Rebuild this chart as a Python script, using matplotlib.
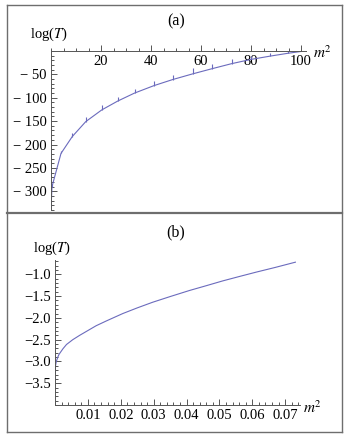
import matplotlib
matplotlib.use("Agg")
import matplotlib.pyplot as plt
from matplotlib.lines import Line2D
from matplotlib.ticker import MultipleLocator, FixedLocator

plt.rcParams['font.family'] = ['Liberation Serif', 'DejaVu Serif']
plt.rcParams['mathtext.fontset'] = 'stix'
plt.rcParams['axes.unicode_minus'] = True

# panel (a): log(T) against m^2, curve through the cusps
a_x = [0.05, 0.4, 4.0, 8.5, 13.9, 20.3, 26.7, 33.4, 41.2, 48.7, 56.6, 64.3, 72.3, 80.0, 87.6, 94.6, 100.0]
a_y = [-332, -290, -219, -183, -151, -126, -107, -90, -74, -61, -49, -38, -27, -18, -11, -5, -1]
# narrow peaks at the cusps (base value, top value)
spike_x = [0.4, 4.0, 8.5, 13.9, 20.3, 26.7, 33.4, 41.2, 48.7, 56.6, 64.3, 72.3, 80.0, 87.6, 94.6]
spike_lo = [-290, -219, -183, -151, -126, -107, -90, -74, -61, -49, -38, -27, -18, -11, -5]
spike_hi = [-284, -213, -175, -141, -116, -99, -82, -65, -52, -37, -27, -17, -10, -4, 0]

# panel (b): small m^2 range
b_x = [0.00003, 0.0001, 0.0004, 0.00086, 0.0012, 0.0024, 0.0035, 0.0054, 0.0075, 0.010, 0.0125,
       0.0156, 0.0206, 0.025, 0.0297, 0.035, 0.0409, 0.046, 0.051, 0.056, 0.0611, 0.067, 0.0731]
b_y = [-3.28, -3.12, -3.00, -2.90, -2.84, -2.71, -2.61, -2.50, -2.40, -2.29, -2.18,
       -2.07, -1.90, -1.77, -1.64, -1.51, -1.37, -1.26, -1.15, -1.05, -0.95, -0.84, -0.72]

line_col = '#6b6bbd'
axis_col = '#555555'
W, H = 350, 436

fig = plt.figure(figsize=(W / 100, H / 100), dpi=100)


def px_axes(l, t, r, b):
    return fig.add_axes([l / W, 1 - b / H, (r - l) / W, (b - t) / H])


def style(ax):
    for s in ['top', 'right']:
        ax.spines[s].set_visible(False)
    for s in ['left', 'bottom']:
        ax.spines[s].set_color(axis_col)
        ax.spines[s].set_linewidth(0.7)
    ax.tick_params(which='both', direction='in', color=axis_col, width=0.7, labelsize=10.5, pad=3)
    ax.tick_params(which='major', length=4)
    ax.tick_params(which='minor', length=2.5)
    ax.patch.set_visible(False)


# ---- panel (a)
ax1 = px_axes(51, 51, 306, 210)
style(ax1)
ax1.plot(a_x, a_y, color=line_col, lw=0.8)
ax1.vlines(spike_x, spike_lo, spike_hi, color=line_col, lw=0.8)
ax1.set_xlim(0, 102)
ax1.set_ylim(-340, 0)
ax1.spines['bottom'].set_position(('data', 0))
ax1.spines['left'].set_position(('data', 0))
ax1.xaxis.set_major_locator(FixedLocator([20, 40, 60, 80, 100]))
ax1.xaxis.set_minor_locator(MultipleLocator(5))
ax1.yaxis.set_major_locator(FixedLocator([-50, -100, -150, -200, -250, -300]))
ax1.yaxis.set_minor_locator(MultipleLocator(10))
ax1.set_yticklabels(['\u2212 50', '\u2212 100', '\u2212 150', '\u2212 200', '\u2212 250', '\u2212 300'])

# ---- panel (b)
ax2 = px_axes(55, 260, 300, 405)
style(ax2)
ax2.plot(b_x, b_y, color=line_col, lw=0.8)
ax2.set_xlim(0, 0.0745)
ax2.set_ylim(-4.0, -0.67)
ax2.xaxis.set_major_locator(FixedLocator([0.01, 0.02, 0.03, 0.04, 0.05, 0.06, 0.07]))
ax2.xaxis.set_minor_locator(MultipleLocator(0.002))
ax2.set_xticklabels(['0.01', '0.02', '0.03', '0.04', '0.05', '0.06', '0.07'])
ax2.yaxis.set_major_locator(FixedLocator([-1.0, -1.5, -2.0, -2.5, -3.0, -3.5]))
ax2.yaxis.set_minor_locator(MultipleLocator(0.1))
ax2.set_yticklabels(['\u22121.0', '\u22121.5', '\u22122.0', '\u22122.5', '\u22123.0', '\u22123.5'])

# texts
def ftext(x, y, s, **kw):
    fig.text(x / W, 1 - y / H, s, ha='center', va='center', **kw)

ftext(176, 21, '(a)', fontsize=11.5)
ftext(176, 232, '(b)', fontsize=11.5)
ftext(49, 34, r'log($T$)', fontsize=10.5)
ftext(52, 248, r'log($T$)', fontsize=10.5)
ftext(322, 53, r'$m^2$', fontsize=11)
ftext(312, 408, r'$m^2$', fontsize=11)

# frames around the panels
frame_col = '#6e6e6e'
for (x0, y0, x1, y1) in [(7, 5, 7, 432), (342, 5, 342, 432), (7, 5, 342, 5), (7, 432, 342, 432)]:
    fig.add_artist(Line2D([x0 / W, x1 / W], [1 - y0 / H, 1 - y1 / H], color=frame_col, lw=1.0))
fig.add_artist(Line2D([7 / W, 342 / W], [1 - 213 / H, 1 - 213 / H], color=frame_col, lw=1.6))

fig.savefig('out.png', dpi=100)
